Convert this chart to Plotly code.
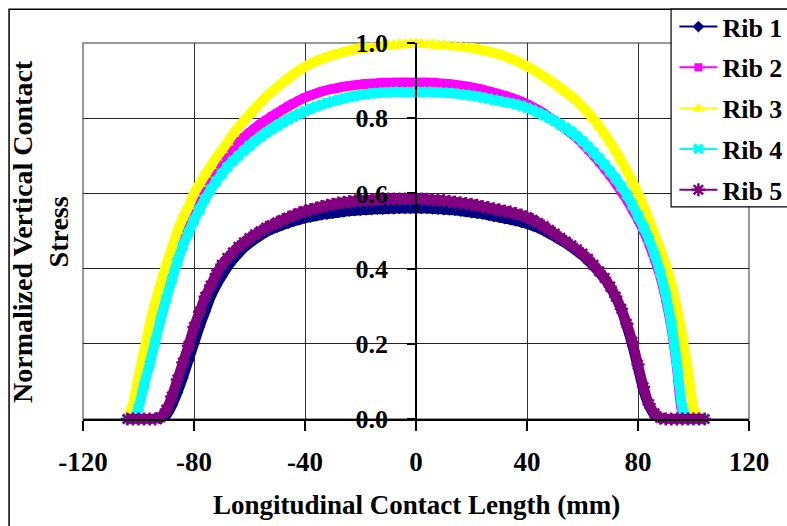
import plotly.graph_objects as go

# Longitudinal positions (mm)
x_mm = [-104, -102, -100, -98, -96, -94, -92, -90, -88, -86,
        -84, -82, -80, -78, -76, -74, -72, -70, -68, -66,
        -64, -62, -60, -58, -56, -54, -52, -50, -48, -46,
        -44, -42, -40, -38, -36, -34, -32, -30, -28, -26,
        -24, -22, -20, -18, -16, -14, -12, -10, -8, -6,
        -4, -2, 0, 2, 4, 6, 8, 10, 12, 14,
        16, 18, 20, 22, 24, 26, 28, 30, 32, 34,
        36, 38, 40, 42, 44, 46, 48, 50, 52, 54,
        56, 58, 60, 62, 64, 66, 68, 70, 72, 74,
        76, 78, 80, 82, 84, 86, 88, 90, 92, 94,
        96, 98, 100, 102, 104]

rib1 = [0, 0, 0, 0, 0, 0, 0, 0.01, 0.035, 0.07,
        0.11, 0.155, 0.2, 0.245, 0.285, 0.325, 0.355, 0.38, 0.403, 0.423,
        0.44, 0.455, 0.467, 0.478, 0.488, 0.497, 0.504, 0.51, 0.516, 0.521,
        0.526, 0.53, 0.534, 0.537, 0.54, 0.543, 0.545, 0.547, 0.549, 0.551,
        0.553, 0.554, 0.555, 0.556, 0.557, 0.558, 0.558, 0.559, 0.559, 0.56,
        0.56, 0.56, 0.56, 0.56, 0.56, 0.559, 0.558, 0.557, 0.556, 0.555,
        0.553, 0.551, 0.549, 0.547, 0.545, 0.542, 0.539, 0.536, 0.533, 0.53,
        0.527, 0.523, 0.519, 0.514, 0.508, 0.501, 0.493, 0.485, 0.476, 0.467,
        0.457, 0.446, 0.435, 0.421, 0.406, 0.39, 0.372, 0.35, 0.323, 0.29,
        0.245, 0.195, 0.135, 0.075, 0.035, 0.01, 0, 0, 0, 0,
        0, 0, 0, 0, 0]

rib2 = [0.0, 0.03, 0.08, 0.14, 0.205, 0.265, 0.32, 0.37, 0.415, 0.46,
        0.498, 0.535, 0.57, 0.6, 0.625, 0.648, 0.668, 0.688, 0.705, 0.72,
        0.735, 0.749, 0.762, 0.774, 0.785, 0.795, 0.805, 0.814, 0.823, 0.832,
        0.84, 0.848, 0.855, 0.861, 0.866, 0.871, 0.875, 0.878, 0.881, 0.884,
        0.886, 0.888, 0.89, 0.891, 0.892, 0.893, 0.894, 0.894, 0.895, 0.895,
        0.895, 0.895, 0.895, 0.895, 0.895, 0.894, 0.893, 0.892, 0.891, 0.889,
        0.887, 0.885, 0.882, 0.879, 0.876, 0.872, 0.868, 0.864, 0.86, 0.855,
        0.85, 0.844, 0.837, 0.83, 0.822, 0.813, 0.803, 0.793, 0.782, 0.771,
        0.76, 0.747, 0.733, 0.717, 0.701, 0.684, 0.666, 0.647, 0.627, 0.605,
        0.583, 0.557, 0.53, 0.50, 0.465, 0.425, 0.38, 0.32, 0.245, 0.14,
        0.015, 0, 0, 0, 0]

rib3 = [0.0, 0.04, 0.11, 0.18, 0.25, 0.31, 0.36, 0.41, 0.455, 0.50,
        0.535, 0.565, 0.60, 0.625, 0.65, 0.672, 0.695, 0.715, 0.735, 0.757,
        0.776, 0.793, 0.81, 0.826, 0.842, 0.858, 0.87, 0.883, 0.895, 0.907,
        0.918, 0.928, 0.937, 0.945, 0.952, 0.958, 0.963, 0.968, 0.972, 0.976,
        0.98, 0.983, 0.986, 0.988, 0.99, 0.992, 0.994, 0.996, 0.997, 0.998,
        0.999, 1.0, 1.0, 1.0, 0.999, 0.998, 0.997, 0.996, 0.994, 0.993,
        0.991, 0.989, 0.987, 0.984, 0.981, 0.978, 0.974, 0.97, 0.965, 0.959,
        0.953, 0.946, 0.938, 0.93, 0.921, 0.912, 0.902, 0.892, 0.881, 0.87,
        0.858, 0.845, 0.831, 0.815, 0.798, 0.779, 0.758, 0.736, 0.712, 0.687,
        0.66, 0.631, 0.60, 0.566, 0.53, 0.49, 0.452, 0.41, 0.36, 0.295,
        0.22, 0.13, 0.03, 0, 0]

rib4 = [0.0, 0.0, 0.03, 0.09, 0.145, 0.205, 0.265, 0.32, 0.37, 0.418,
        0.46, 0.495, 0.528, 0.557, 0.585, 0.61, 0.632, 0.652, 0.67, 0.686,
        0.70, 0.714, 0.727, 0.739, 0.75, 0.761, 0.771, 0.78, 0.789, 0.797,
        0.805, 0.812, 0.819, 0.825, 0.831, 0.836, 0.841, 0.845, 0.849, 0.853,
        0.856, 0.859, 0.862, 0.864, 0.866, 0.867, 0.868, 0.869, 0.87, 0.87,
        0.87, 0.87, 0.87, 0.87, 0.87, 0.87, 0.869, 0.868, 0.867, 0.866,
        0.864, 0.862, 0.86, 0.858, 0.855, 0.852, 0.849, 0.846, 0.843, 0.84,
        0.837, 0.833, 0.828, 0.822, 0.815, 0.808, 0.8, 0.792, 0.783, 0.774,
        0.764, 0.752, 0.739, 0.724, 0.709, 0.693, 0.676, 0.658, 0.639, 0.618,
        0.596, 0.569, 0.54, 0.51, 0.477, 0.437, 0.39, 0.33, 0.255, 0.15,
        0.03, 0, 0, 0, 0]

rib5 = [0, 0, 0, 0, 0, 0, 0.005, 0.025, 0.06, 0.105,
        0.15, 0.195, 0.245, 0.285, 0.325, 0.355, 0.385, 0.41, 0.428, 0.443,
        0.458, 0.47, 0.481, 0.491, 0.5, 0.509, 0.516, 0.523, 0.53, 0.536,
        0.542, 0.548, 0.553, 0.557, 0.561, 0.565, 0.568, 0.571, 0.574, 0.576,
        0.578, 0.58, 0.581, 0.582, 0.583, 0.584, 0.585, 0.585, 0.585, 0.585,
        0.585, 0.585, 0.585, 0.585, 0.584, 0.583, 0.582, 0.581, 0.579, 0.577,
        0.575, 0.573, 0.571, 0.568, 0.565, 0.562, 0.559, 0.556, 0.553, 0.55,
        0.546, 0.542, 0.537, 0.53, 0.522, 0.513, 0.503, 0.493, 0.482, 0.472,
        0.462, 0.451, 0.44, 0.426, 0.41, 0.393, 0.375, 0.352, 0.325, 0.293,
        0.253, 0.205, 0.145, 0.085, 0.04, 0.015, 0.003, 0, 0, 0,
        0, 0, 0, 0, 0]

for arr in (rib1, rib2, rib3, rib4, rib5):
    assert len(arr) == len(x_mm)

series_names = ["Rib 1", "Rib 2", "Rib 3", "Rib 4", "Rib 5"]
x_ticks = [-120, -80, -40, 0, 40, 80, 120]
x_tick_labels = ["-120", "-80", "-40", "0", "40", "80", "120"]
y_ticks = [0.0, 0.2, 0.4, 0.6, 0.8, 1.0]
y_tick_labels = ["0.0", "0.2", "0.4", "0.6", "0.8", "1.0"]

styles = [
    dict(color="#000080", symbol="diamond", size=9, lw=0),
    dict(color="#FF00FF", symbol="square", size=8, lw=0),
    dict(color="#FFFF00", symbol="triangle-up", size=11, lw=0),
    dict(color="#00FFFF", symbol="x", size=10, lw=0),
    dict(color="#800080", symbol="asterisk-open", size=11, lw=2.5),
]

FONT = "Liberation Serif"
fig = go.Figure()
for name, vals, st in zip(series_names, [rib1, rib2, rib3, rib4, rib5], styles):
    # thick band (the dense overlapping markers of the original)
    fig.add_trace(go.Scatter(
        x=x_mm, y=vals, name=name, mode="lines", showlegend=False,
        legendgroup=name, hoverinfo="skip",
        line=dict(color=st["color"], width=10, shape="spline", smoothing=0.6),
        cliponaxis=False,
    ))
    fig.add_trace(go.Scatter(
        x=x_mm, y=vals, name=name, mode="lines+markers", legendgroup=name,
        line=dict(color=st["color"], width=2),
        marker=dict(symbol=st["symbol"], size=st["size"], color=st["color"],
                    line=dict(color=st["color"], width=st["lw"])),
        cliponaxis=False,
    ))

fig.update_layout(
    width=787, height=526,
    margin=dict(l=83, r=38, t=43, b=107, autoexpand=False),
    paper_bgcolor="white", plot_bgcolor="white",
    font=dict(family=FONT, size=27, color="black", weight="bold"),
    showlegend=True,
    legend=dict(x=0.888, y=1.106, xanchor="left", yanchor="top",
                bgcolor="rgba(0,0,0,0)", borderwidth=0, traceorder="grouped",
                font=dict(family=FONT, size=26, color="black", weight="bold"),
                itemwidth=38, tracegroupgap=4),
    xaxis=dict(range=[-120, 120], tickvals=x_ticks, ticktext=x_tick_labels,
               showgrid=True, gridcolor="#333333", gridwidth=1.3, zeroline=False,
               showline=True, linecolor="black", linewidth=1.5,
               ticks="outside", ticklen=10, tickcolor="black", tickwidth=1.5,
               ticklabelstandoff=8, automargin=False,
               tickfont=dict(family=FONT, size=27, color="black", weight="bold")),
    yaxis=dict(range=[0, 1.0], tickvals=y_ticks, ticktext=y_tick_labels,
               anchor="free", position=0.5, showgrid=True,
               gridcolor="#222222", gridwidth=1.3, zeroline=False,
               showline=True, linecolor="black", linewidth=1.5,
               ticks="outside", ticklen=8, tickcolor="black", tickwidth=1.5,
               ticklabelstandoff=14, automargin=False,
               tickfont=dict(family=FONT, size=26, color="black", weight="bold")),
)

# plot-area border (gray) and outer chart border
fig.add_shape(type="rect", xref="paper", yref="paper", x0=0, x1=1, y0=0, y1=1,
              line=dict(color="#777777", width=1.5), layer="below")
fig.add_shape(type="rect", xref="paper", yref="paper", x0=-0.111, x1=1.3, y0=-0.5, y1=1.09,
              line=dict(color="black", width=1.5), layer="below")
# legend box
fig.add_shape(type="rect", xref="paper", yref="paper", x0=0.883, x1=1.3, y0=0.564, y1=1.09,
              line=dict(color="black", width=1.2), fillcolor="white", layer="above")

fig.add_annotation(text="Normalized Vertical Contact<br>Stress", xref="paper", yref="paper",
                   x=-0.0646, y=0.5, xanchor="center", yanchor="middle", textangle=-90,
                   showarrow=False, font=dict(family=FONT, size=28, color="black", weight="bold"))
fig.add_annotation(text="Longitudinal Contact Length (mm)", xref="paper", yref="paper",
                   x=0.5, y=-0.229, xanchor="center", yanchor="middle",
                   showarrow=False, font=dict(family=FONT, size=27, color="black", weight="bold"))

fig.write_html("out.html")
